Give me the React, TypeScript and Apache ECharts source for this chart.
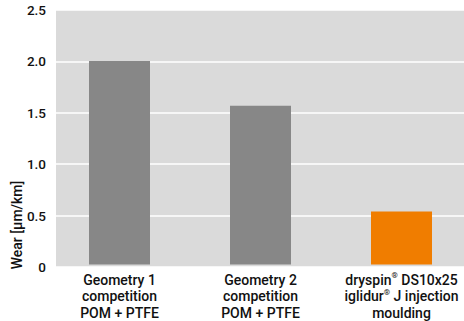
import React, { useEffect, useRef } from "react";
import * as echarts from "echarts";

const categories = [
  "Geometry 1\ncompetition\nPOM + PTFE",
  "Geometry 2\ncompetition\nPOM + PTFE",
  "dryspin{sup|®} DS10x25\niglidur{sup|®} J injection\nmoulding",
];
const wearValues = [2.0, 1.56, 0.52];
const barColors = ["#878787", "#878787", "#f07d00"];
const yAxisName = "Wear [µm/km]";

export default function App() {
  const ref = useRef<HTMLDivElement>(null);
  useEffect(() => {
    if (!ref.current) return;
    const chart = echarts.init(ref.current, undefined, { renderer: "svg" });
    const font = "Roboto, 'Liberation Sans', Arial, sans-serif";
    chart.setOption({
      animation: false,
      grid: [
        { left: 56, right: 0, top: 10, bottom: 54, show: true, backgroundColor: "#dadada", borderWidth: 0 },
        { left: 119.5, right: 62.5, top: 10, bottom: 54 },
      ],
      xAxis: [
        { type: "category", gridIndex: 0, show: false, data: categories },
        {
          type: "category",
          gridIndex: 1,
          data: categories,
          boundaryGap: false,
          axisLine: { show: false },
          axisTick: { show: false },
          splitLine: { show: false },
          axisLabel: {
            interval: 0,
            margin: 7,
            color: "#111",
            fontFamily: font,
            fontWeight: 500,
            fontSize: 14,
            lineHeight: 16.5,
            rich: {
              sup: { fontSize: 8, fontWeight: 500, verticalAlign: "top", color: "#111", fontFamily: font, lineHeight: 16.5, padding: [0, 0, 6, 0] },
            },
          },
        },
      ],
      yAxis: [
        {
          type: "value",
          gridIndex: 0,
          min: 0,
          max: 2.5,
          interval: 0.5,
          axisLine: { show: false },
          axisTick: { show: false },
          splitLine: { lineStyle: { color: "#ffffff", width: 1.5 } },
          axisLabel: {
            margin: 10,
            color: "#111",
            fontFamily: font,
            fontWeight: 500,
            fontSize: 13.5,
            formatter: (v: number) => (v === 0 ? "0" : v.toFixed(1)),
          },
        },
        { type: "value", gridIndex: 1, min: 0, max: 2.5, show: false },
      ],
      graphic: [
        {
          type: "text",
          x: 17,
          y: 225,
          rotation: Math.PI / 2,
          style: {
            text: yAxisName,
            fill: "#111",
            font: `500 14px ${font}`,
            align: "center",
            verticalAlign: "middle",
          },
        },
      ],
      series: [
        {
          type: "bar",
          xAxisIndex: 1,
          yAxisIndex: 1,
          barWidth: 61,
          data: wearValues.map((v, i) => ({ value: v, itemStyle: { color: barColors[i] } })),
        },
      ],
    });
    return () => chart.dispose();
  }, []);
  return <div ref={ref} style={{ width: 464, height: 321, position: "absolute", left: 0, top: 0 }} />;
}
